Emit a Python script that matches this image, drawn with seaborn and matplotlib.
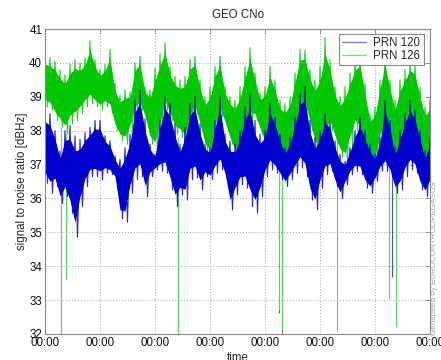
import numpy as np
import pandas as pd
import matplotlib
matplotlib.use("Agg")
import matplotlib.pyplot as plt
import seaborn as sns

# C/N0 envelope samples (upper / lower edge of the noise band),
# one pair every 1/11 day over the 7 days shown
prn126_high = [
    40.18, 40.15, 40.05, 39.8, 39.65, 39.95, 40.1, 40.0, 40.15, 40.65,
    40.1, 39.8, 39.95, 40.4, 39.4, 39.05, 39.2, 39.15, 40.0, 40.2,
    39.3, 39.2, 39.85, 40.28, 40.6, 39.9, 39.6, 39.5, 39.6, 40.1,
    40.2, 39.5, 39.0, 39.3, 39.9, 40.2, 39.3, 39.0, 38.9, 39.3,
    39.9, 40.45, 39.7, 39.1, 39.3, 39.9, 39.5, 38.9, 38.8, 39.0,
    39.7, 40.4, 40.38, 39.8, 39.5, 39.9, 40.75, 40.1, 39.3, 39.0,
    39.3, 39.7, 40.1, 40.28, 39.4, 38.5, 38.7, 39.5, 40.3, 39.5,
    38.9, 39.5, 39.8, 40.1, 40.0, 39.3, 38.7, 38.9,
]
prn126_low = [
    38.7, 38.6, 38.3, 38.1, 37.9, 38.2, 38.3, 38.5, 38.7, 38.8,
    38.7, 38.6, 38.7, 38.5, 38.0, 37.7, 37.6, 38.0, 38.5, 38.6,
    38.3, 37.6, 37.3, 37.9, 38.6, 38.3, 37.9, 37.8, 37.6, 38.2,
    38.5, 38.0, 37.4, 37.1, 37.9, 38.4, 38.1, 37.6, 37.2, 37.0,
    37.6, 38.2, 38.3, 37.9, 37.4, 37.9, 37.5, 37.2, 37.0, 37.3,
    37.8, 38.3, 38.6, 38.0, 37.4, 37.0, 37.6, 38.0, 37.6, 37.2,
    37.0, 37.5, 38.0, 37.8, 37.3, 37.0, 37.0, 37.6, 38.0, 37.6,
    37.0, 37.3, 37.7, 38.0, 37.7, 37.3, 37.0, 37.2,
]
prn120_high = [
    38.6, 38.5, 38.0, 37.4, 38.0, 38.15, 37.85, 37.75, 37.95, 38.1,
    38.3, 38.3, 37.85, 37.7, 37.25, 37.15, 37.5, 37.9, 38.9, 39.2,
    38.35, 37.6, 37.3, 38.3, 39.0, 38.8, 38.2, 37.6, 38.1, 38.8,
    39.0, 38.2, 37.6, 37.5, 38.3, 39.0, 37.9, 37.7, 37.6, 38.0,
    38.7, 39.1, 38.3, 37.9, 38.0, 38.8, 38.4, 37.9, 37.5, 37.8,
    38.4, 39.1, 39.3, 38.3, 37.8, 38.0, 38.5, 38.3, 37.7, 37.3,
    37.1, 37.5, 38.0, 38.4, 38.0, 37.6, 37.3, 37.8, 38.9, 38.3,
    37.5, 38.0, 38.5, 38.9, 38.6, 38.0, 37.4, 37.8,
]
prn120_low = [
    36.45, 36.15, 36.35, 35.85, 36.05, 35.56, 34.85, 35.76, 36.35, 36.64,
    36.64, 36.55, 36.74, 36.7, 36.55, 35.4, 35.3, 36.15, 36.55, 36.64,
    36.05, 36.64, 36.84, 36.8, 36.74, 36.25, 35.76, 36.1, 35.95, 36.55,
    36.6, 36.25, 36.64, 36.55, 36.74, 36.84, 36.55, 35.66, 36.1, 36.4,
    36.3, 35.76, 35.56, 36.05, 36.64, 36.84, 36.74, 36.55, 36.35, 36.55,
    36.74, 36.9, 36.64, 35.95, 35.66, 36.3, 36.7, 36.8, 36.35, 36.0,
    36.4, 36.7, 36.8, 36.7, 36.3, 36.15, 36.5, 36.8, 36.8, 36.6,
    36.15, 36.25, 36.64, 36.84, 36.74, 36.25, 36.05, 36.35,
]

# short signal dropouts: day of the event and the lowest C/N0 reached
prn126_drop_day = [0.285, 0.387, 2.424, 4.260, 4.304, 5.315, 6.260, 6.387]
prn126_drop_min = [32.0, 33.63, 32.0, 32.71, 32.12, 32.09, 33.04, 32.22]
prn120_drop_day = [0.285, 2.424, 4.260, 4.304, 6.315]
prn120_drop_min = [31.95, 31.95, 32.62, 32.02, 33.69]

series_names = ["PRN 120", "PRN 126"]
series_colors = {"PRN 120": "#0000cc", "PRN 126": "#00c800"}
drop_colors = {"PRN 120": "#4a4ae6", "PRN 126": "#5ad65a"}
y_ticks = [32, 33, 34, 35, 36, 37, 38, 39, 40, 41]
x_ticks = [0, 1, 2, 3, 4, 5, 6, 7]
x_tick_labels = ["00:00"] * len(x_ticks)

step = 1.0 / 11.0


def band_rows(name, highs, lows):
    rows = []
    for i, (hi, lo) in enumerate(zip(highs, lows)):
        rows.append((name, i * step, hi))
        rows.append((name, i * step, lo))
    return rows


def trace_rows(name, highs, lows):
    # the raw trace swings between the two edges within each sample interval
    rows = []
    for i, (hi, lo) in enumerate(zip(highs, lows)):
        rows.append((name, i * step, hi))
        rows.append((name, (i + 0.5) * step, lo))
    return rows


cols = ["prn", "day", "cno"]
band_df = pd.DataFrame(band_rows("PRN 126", prn126_high, prn126_low)
                       + band_rows("PRN 120", prn120_high, prn120_low), columns=cols)
trace_df = pd.DataFrame(trace_rows("PRN 126", prn126_high, prn126_low)
                        + trace_rows("PRN 120", prn120_high, prn120_low), columns=cols)

sns.set_theme(style="white")
plt.rcParams["font.family"] = ["Liberation Sans", "DejaVu Sans"]
fs = 8.3

fig = plt.figure(figsize=(4.41, 3.6), dpi=100)
ax = fig.add_axes([45 / 441, 26 / 360, 385 / 441, 305 / 360])

# dense core of the noise band
sns.lineplot(
    data=band_df, x="day", y="cno", hue="prn",
    hue_order=["PRN 126", "PRN 120"], palette=series_colors,
    estimator="mean", errorbar=("pi", 70),
    err_kws={"alpha": 1.0, "linewidth": 0},
    linewidth=0, legend=False, ax=ax,
)
bands = list(ax.collections)
bands[0].set_zorder(1.5)
bands[1].set_zorder(2.5)

# spiky trace reaching the band edges
n_lines = len(ax.lines)
sns.lineplot(
    data=trace_df, x="day", y="cno", hue="prn",
    hue_order=["PRN 126", "PRN 120"], palette=series_colors,
    estimator=None, sort=False, linewidth=0.8, alpha=0.85, ax=ax,
)
trace_lines = ax.lines[n_lines:n_lines + 2]
trace_lines[0].set_zorder(1.6)
trace_lines[1].set_zorder(2.6)


def band_low(day, lows):
    idx = int(round(day / step))
    return lows[min(idx, len(lows) - 1)]


ax.vlines(prn120_drop_day, prn120_drop_min,
          [band_low(d, prn120_low) for d in prn120_drop_day],
          color=drop_colors["PRN 120"], linewidth=0.8, zorder=2.0)
ax.vlines(prn126_drop_day, prn126_drop_min,
          [band_low(d, prn126_low) for d in prn126_drop_day],
          color=drop_colors["PRN 126"], linewidth=0.8, zorder=2.2)

ax.set_xlim(0, 7)
ax.set_ylim(32, 41)
ax.set_xticks(x_ticks)
ax.set_xticklabels(x_tick_labels)
ax.set_yticks(y_ticks)
ax.set_yticklabels([str(v) for v in y_ticks])
ax.grid(True, linestyle=":", color="#b0b0b0", linewidth=0.8)
ax.set_axisbelow(True)
for sp in ax.spines.values():
    sp.set_color("#888888")
    sp.set_linewidth(0.8)
    sp.set_zorder(3)
ax.tick_params(direction="in", length=3.5, width=0.6, color="#888888",
               top=True, right=True, labelsize=fs, pad=2, labelcolor="#111111")

ax.set_title("GEO CNo", fontsize=fs, pad=8)
ax.set_xlabel("time", fontsize=fs, labelpad=2)
ax.set_ylabel("signal to noise ratio [dBHz]", fontsize=fs, labelpad=1)

handles, labels = ax.get_legend_handles_labels()
order = [labels.index(n) for n in series_names]
leg = ax.legend([handles[i] for i in order], [labels[i] for i in order],
                loc="upper right", bbox_to_anchor=(0.984, 0.984), borderaxespad=0,
                fancybox=False, framealpha=1, edgecolor="#888888", fontsize=fs,
                handlelength=2.1, handletextpad=0.6, labelspacing=0.05, borderpad=0.3)
leg.get_frame().set_linewidth(0.8)
leg.set_zorder(5)
for h in leg.get_lines():
    h.set_linewidth(0.9)
    h.set_alpha(0.55)

fig.text(434.5 / 441, 25 / 360, "Generated by EUROCONTROL/PEGASUS", rotation=90,
         fontsize=5.8, color="#a0a0a0", ha="center", va="bottom")

fig.savefig("out.png", dpi=100)
